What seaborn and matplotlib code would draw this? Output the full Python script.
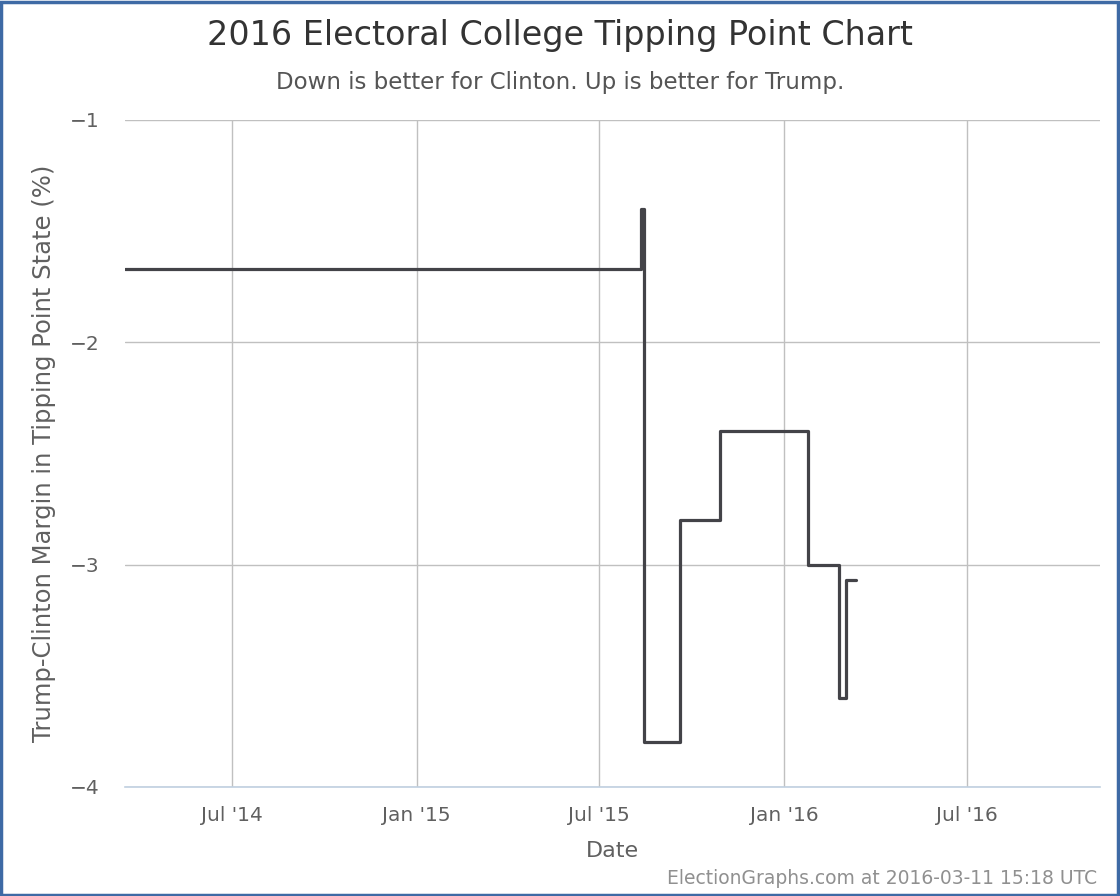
import matplotlib
matplotlib.use("Agg")
import matplotlib.pyplot as plt
from matplotlib.patches import Rectangle
import pandas as pd
import seaborn as sns

# step changes in the tipping point margin (value holds until next date)
dates = ["2014-03-17", "2015-08-12", "2015-08-15", "2015-09-20", "2015-10-29",
         "2016-01-25", "2016-02-25", "2016-03-03", "2016-03-13"]
margins = [-1.67, -1.40, -3.80, -2.80, -2.40, -3.00, -3.60, -3.07, -3.07]

x_start = "2014-03-17"
x_end = "2016-11-10"
tick_dates = ["2014-07-01", "2015-01-01", "2015-07-01", "2016-01-01", "2016-07-01"]
tick_labels = ["Jul '14", "Jan '15", "Jul '15", "Jan '16", "Jul '16"]
y_ticks = [-1, -2, -3, -4]

df = pd.DataFrame({"date": pd.to_datetime(dates), "margin": margins})

sns.set_theme(style="white")
plt.rcParams["font.family"] = ["DejaVu Sans"]

fig = plt.figure(figsize=(11.2, 8.96), dpi=100)
ax = fig.add_axes([0.1116, 0.1217, 0.8705, 0.7444])

sns.lineplot(data=df, x="date", y="margin", ax=ax, color="#434348",
             linewidth=2.3, drawstyle="steps-post")

ax.set_xlim(pd.Timestamp(x_start), pd.Timestamp(x_end))
ax.set_ylim(-4, -1)
ax.set_xticks(pd.to_datetime(tick_dates))
ax.set_xticklabels(tick_labels)
ax.set_yticks(y_ticks)
ax.grid(True, color="#c0c0c0", linewidth=1)
ax.set_axisbelow(True)

for s in ["top", "right", "left"]:
    ax.spines[s].set_visible(False)
ax.spines["bottom"].set_color("#c0d0e0")
ax.spines["bottom"].set_linewidth(1.2)

ax.tick_params(axis="x", colors="#606060", labelsize=14.5, length=0, pad=14)
ax.tick_params(axis="y", colors="#606060", labelsize=14.5, length=0, pad=18)
ax.set_xlabel("Date", fontsize=16, color="#606060", labelpad=11)
ax.set_ylabel("Trump-Clinton Margin in Tipping Point State (%)", fontsize=17.5,
              color="#606060", labelpad=10)

fig.text(0.5, 0.96, "2016 Electoral College Tipping Point Chart", ha="center",
         va="center", fontsize=24, color="#333333")
fig.text(0.5, 0.908, "Down is better for Clinton. Up is better for Trump.",
         ha="center", va="center", fontsize=16.5, color="#555555")
fig.text(0.98, 0.019, "ElectionGraphs.com at 2016-03-11 15:18 UTC", ha="right",
         va="center", fontsize=13.5, color="#909090")

fig.patches.append(Rectangle((0.001, 0.001), 0.997, 0.997, transform=fig.transFigure,
                             fill=False, edgecolor="#3e6aa5", linewidth=2.5))

fig.savefig("out.png", dpi=100)
